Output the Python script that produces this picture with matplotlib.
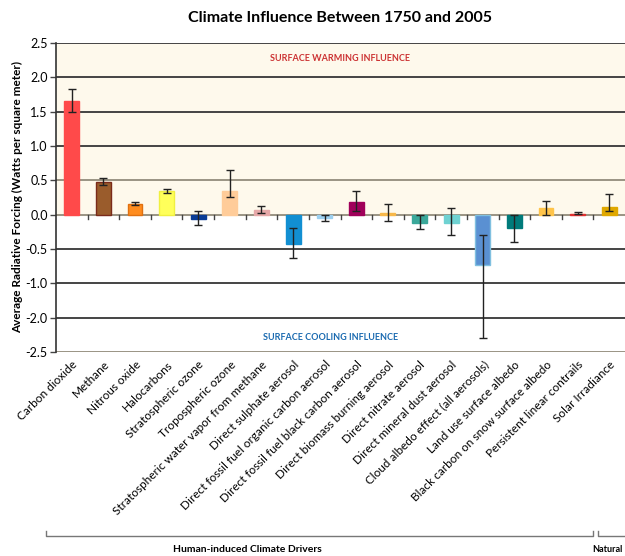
import numpy as np
import matplotlib
matplotlib.use("Agg")
import matplotlib.pyplot as plt

plt.rcParams['font.family'] = ['Lato', 'DejaVu Sans']

# 데이터
drivers = ["Carbon dioxide", "Methane", "Nitrous oxide", "Halocarbons",
           "Stratospheric ozone", "Tropospheric ozone",
           "Stratospheric water vapor from methane", "Direct sulphate aerosol",
           "Direct fossil fuel organic carbon aerosol",
           "Direct fossil fuel black carbon aerosol",
           "Direct biomass burning aerosol", "Direct nitrate aerosol",
           "Direct mineral dust aerosol", "Cloud albedo effect (all aerosols)",
           "Land use surface albedo", "Black carbon on snow surface albedo",
           "Persistent linear contrails", "Solar Irradiance"]
forcing = [1.65, 0.48, 0.16, 0.34, -0.07, 0.35, 0.07, -0.43, -0.05,
           0.19, 0.02, -0.13, -0.12, -0.74, -0.2, 0.1, 0.01, 0.11]
err_low = [1.49, 0.43, 0.14, 0.31, -0.15, 0.25, 0.02, -0.63, -0.1,
           0.05, -0.09, -0.21, -0.3, -1.8, -0.4, 0.0, 0.005, 0.05]
err_high = [1.83, 0.53, 0.18, 0.37, 0.05, 0.65, 0.12, -0.2, 0.0,
            0.35, 0.15, 0.0, 0.1, -0.3, 0.0, 0.2, 0.03, 0.3]
colors = ["#ff4a4a", "#9a5c2c", "#ff8c1e", "#ffff5a", "#0a3c96", "#ffcc99",
          "#e6a8a8", "#128fd2", "#9cd0f0", "#a0005a", "#f7b84a", "#3aa89a",
          "#6fd2d2", "#5a90d2", "#007b7b", "#ffc44a", "#e03030", "#e0a800"]
edges = ["#ff4a4a", "#7a2a1a", "#e07010", "#f0f040", "#0a3c96", "#ffcc99",
         "#e6a8a8", "#128fd2", "#9cd0f0", "#a0005a", "#f7b84a", "#3aa89a",
         "#6fd2d2", "#80c0e0", "#007b7b", "#ffc44a", "#e03030", "#e0a800"]

# y축 눈금 (원본 그림의 라벨 그대로)
ytick_pos = [2.5, 2.0, 1.5, 1.0, 0.5, 0.0, -0.5, -1.0, -1.5, -2.0]
ytick_labels = ["2.5", "2.0", "1.5", "1.0", "0.5", "0.0", "-0.5", "-1.0", "-2.0", "-2.5"]

x = np.arange(len(drivers))
forcing = np.array(forcing)
yerr = np.array([forcing - np.array(err_low), np.array(err_high) - forcing])

fig = plt.figure(figsize=(6.25, 5.56), dpi=100)
ax = fig.add_axes([0.0896, 0.367, 0.9104, 0.556])

ax.set_xlim(-0.5, 17.5)
ax.set_ylim(-2.0, 2.5)
ax.axhspan(0, 2.5, color="#fef9ec", zorder=0)

for yv in ytick_pos:
    c = "#9a9484" if yv in (0.5, 0.0, -2.0) else "#444444"
    ax.axhline(yv, color=c, lw=1.4, zorder=1)

ax.bar(x, forcing, width=0.47, color=colors, edgecolor=edges, linewidth=1, zorder=2)
ax.errorbar(x, forcing, yerr=yerr, fmt="none", ecolor="#222222",
            elinewidth=1, capsize=3, capthick=1, zorder=3)

# 0 선 위의 경계 눈금
for b in np.arange(0.5, 17.0, 1.0):
    ax.plot([b, b], [0, -0.07], color="#444444", lw=1, zorder=2)

ax.set_yticks(ytick_pos)
ax.set_yticklabels(ytick_labels, fontsize=9)
ax.set_xticks(x)
ax.set_xticklabels(drivers, rotation=45, ha="right", rotation_mode="anchor", fontsize=8.5)
ax.tick_params(axis="x", length=0, pad=5)
ax.tick_params(axis="y", length=4, width=1, color="#444444", pad=2)
for s in ["top", "right", "bottom"]:
    ax.spines[s].set_visible(False)
ax.spines["left"].set_color("#333333")
ax.spines["left"].set_linewidth(1.2)

ax.set_ylabel("Average Radiative Forcing (Watts per square meter)",
              fontsize=8.5, fontweight="bold", labelpad=2)

ax.text(8.5, 2.27, "SURFACE WARMING INFLUENCE", color="#cc3333", fontsize=6.5,
        fontweight="bold", ha="center", va="center")
ax.text(8.2, -1.79, "SURFACE COOLING INFLUENCE", color="#1a6ab0", fontsize=6.5,
        fontweight="bold", ha="center", va="center")

fig.text(0.544, 0.968, "Climate Influence Between 1750 and 2005", fontsize=11.5,
         fontweight="bold", ha="center", va="center")

# 아래쪽 괄호
def fy(py):
    return 1 - py / 556

def fx(px):
    return px / 625

br = dict(color="#777777", lw=1, transform=fig.transFigure)
fig.add_artist(plt.Line2D([fx(46), fx(46), fx(593), fx(593)],
                          [fy(531), fy(536), fy(536), fy(531)], **br))
fig.add_artist(plt.Line2D([fx(598), fx(598), fx(625)],
                          [fy(531), fy(536), fy(536)], **br))
fig.text(fx(247), fy(549), "Human-induced Climate Drivers", fontsize=7.5,
         fontweight="bold", ha="center", va="center")
fig.text(fx(623), fy(549), "Natural", fontsize=6.5, fontweight="bold",
         ha="right", va="center")

plt.savefig("out.png", dpi=100)
